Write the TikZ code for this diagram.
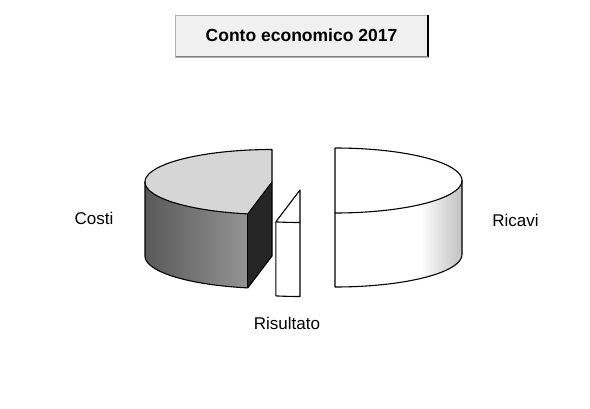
\documentclass[tikz,border=0pt]{standalone}
\usepackage{fontspec}
\setmainfont{Liberation Sans}
\begin{document}
\begin{tikzpicture}[x=1pt,y=-1pt,line join=round,
  outl/.style={draw=black,line width=1.1pt},
  lbl/.style={inner sep=0pt,anchor=base,font=\fontsize{17}{20}\selectfont},
  ttl/.style={inner sep=0pt,anchor=base,font=\fontsize{17.5}{21}\selectfont\bfseries}]
\useasboundingbox[fill=white] (0,0) rectangle (590,409);
% ---------- title box ----------
\draw[draw=gray!60,fill=black!6] (175,15) rectangle (428,57);
\draw[line width=2pt] (428,15) -- (428,57);
\draw[line width=1pt,gray] (428,57) -- (176,57);
\node[ttl] (title) at (301.5,42) {Conto economico 2017};
% ---------- Ricavi (right half) ----------
\fill[white] (335,180.5) -- plot[domain=90:-90,samples=60] ({335+127*cos(\x)},{180.5-32.5*sin(\x)}) -- cycle;
\begin{scope}
  \clip plot[domain=-90:0,samples=40] ({335+127*cos(\x)},{180.5-32.5*sin(\x)}) -- plot[domain=0:-90,samples=40] ({335+127*cos(\x)},{254.5-32.5*sin(\x)}) -- cycle;
  \fill[white] (330,170) rectangle (470,300);
  \shade[left color=white,right color=black!25] (420,170) rectangle (463,300);
\end{scope}
\draw[outl] (335,148) -- plot[domain=90:-90,samples=60] ({335+127*cos(\x)},{180.5-32.5*sin(\x)});
\draw[outl] (462,180.5) -- (462,254.5) -- plot[domain=0:-90,samples=40] ({335+127*cos(\x)},{254.5-32.5*sin(\x)}) -- (335,148);
% ---------- Risultato (sliver) ----------
\fill[white] (300,190) -- plot[domain=259:270,samples=10] ({300+127*cos(\x)},{190-32.5*sin(\x)}) -- cycle;
\fill[white] plot[domain=259:270,samples=10] ({300+127*cos(\x)},{190-32.5*sin(\x)}) -- plot[domain=270:259,samples=10] ({300+127*cos(\x)},{264-32.5*sin(\x)}) -- cycle;
\draw[outl] (300,190) -- plot[domain=259:270,samples=10] ({300+127*cos(\x)},{190-32.5*sin(\x)}) -- cycle;
\draw[outl] (275.8,221.9) -- (275.8,295.9) -- plot[domain=259:270,samples=10] ({300+127*cos(\x)},{264-32.5*sin(\x)}) -- (300,222.5);
% ---------- Costi (left part) ----------
\fill[black!16] (272,182) -- plot[domain=90:259,samples=60] ({272+127*cos(\x)},{182-32.5*sin(\x)}) -- cycle;
\shade[left color=black!65,middle color=black!38,right color=black!42] plot[domain=180:259,samples=40] ({272+127*cos(\x)},{182-32.5*sin(\x)}) -- plot[domain=259:180,samples=40] ({272+127*cos(\x)},{256-32.5*sin(\x)}) -- cycle;
\fill[black!85] (272,182) -- (247.8,213.9) -- (247.8,287.9) -- (272,256) -- cycle;
\draw[outl] (272,182) -- plot[domain=90:259,samples=60] ({272+127*cos(\x)},{182-32.5*sin(\x)}) -- cycle;
\draw[outl] (145,182) -- (145,256) -- plot[domain=180:259,samples=40] ({272+127*cos(\x)},{256-32.5*sin(\x)}) -- (272,256) -- (272,182);
\draw[outl] (247.8,213.9) -- (247.8,287.9);
% ---------- labels ----------
\node[lbl] (costi) at (94,225) {Costi};
\node[lbl] (ricavi) at (515.5,227) {Ricavi};
\node[lbl] (risultato) at (287,330) {Risultato};
\end{tikzpicture}
\end{document}
